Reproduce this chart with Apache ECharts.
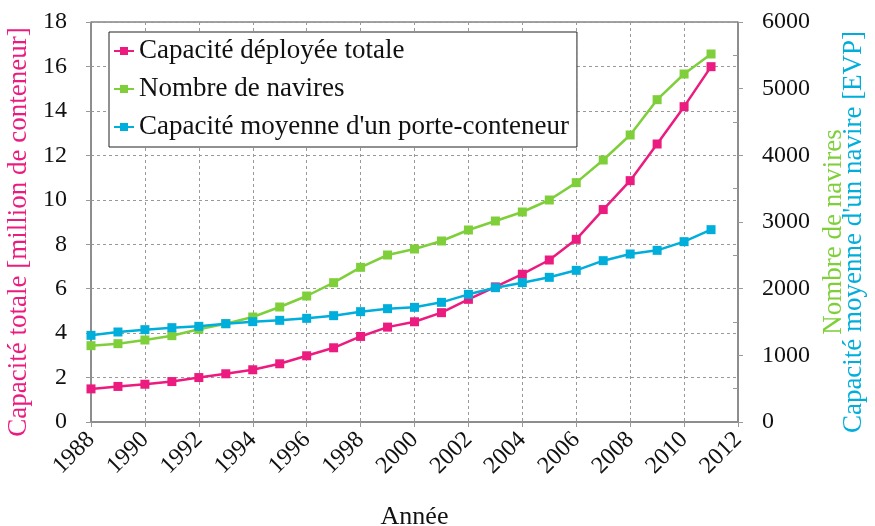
<!DOCTYPE html>
<html>
<head>
<meta charset="utf-8">
<script src="https://cdn.jsdelivr.net/npm/echarts@6/dist/echarts.min.js"></script>
<style>html,body{margin:0;padding:0;background:#fff}#c{width:875px;height:526px}</style>
</head>
<body>
<div id="c"></div>
<script>
var years = [1988,1989,1990,1991,1992,1993,1994,1995,1996,1997,1998,1999,2000,2001,2002,2003,2004,2005,2006,2007,2008,2009,2010,2011];
var capaciteTotale = [1.49,1.6,1.7,1.82,2.0,2.17,2.35,2.62,2.98,3.34,3.85,4.27,4.51,4.92,5.52,6.08,6.65,7.29,8.22,9.56,10.86,12.51,14.19,15.99];
var nombreNavires = [1145,1175,1230,1295,1390,1475,1575,1725,1890,2090,2320,2505,2595,2715,2880,3015,3150,3330,3590,3930,4305,4835,5220,5520];
var capaciteMoyenne = [1300,1350,1385,1415,1435,1475,1505,1525,1555,1595,1655,1700,1720,1795,1915,2015,2090,2170,2275,2420,2520,2575,2705,2885];
var xTicks = {min:1988, max:2012, interval:2};
var yLeftTicks = {min:0, max:18, interval:2};
var yRightTicks = {min:0, max:6000, interval:1000};

function pairs(vals){ return years.map(function(y,i){ return [y, vals[i]]; }); }

var FONT = "'Liberation Serif', serif";
var PINK = '#EC1B7F', GREEN = '#7FCF3B', BLUE = '#00AEDB';
var plain = function(v){ return String(v); };
var chart = echarts.init(document.getElementById('c'));
chart.setOption({
  animation:false,
  textStyle:{fontFamily:FONT},
  grid:{left:91,right:137,top:22,bottom:104,outerBoundsMode:'none',containLabel:false,
        show:true,borderColor:'#444',borderWidth:1,backgroundColor:'transparent'},
  legend:{
    orient:'vertical', left:109, top:32,
    backgroundColor:'#fff', borderColor:'#222', borderWidth:1,
    padding:[5,8,6,4], itemGap:10, itemWidth:20, itemHeight:10,
    textStyle:{fontFamily:FONT,fontSize:27,color:'#111',lineHeight:28},
    data:['Capacité déployée totale','Nombre de navires',"Capacité moyenne d'un porte-conteneur"]
  },
  xAxis:{
    type:'value', min:xTicks.min, max:xTicks.max, interval:xTicks.interval,
    name:'Année', nameLocation:'middle', nameGap:82,
    nameTextStyle:{fontFamily:FONT,fontSize:26,color:'#111'},
    axisLine:{lineStyle:{color:'#888',width:1.5}},
    axisTick:{show:true,inside:false,length:5,lineStyle:{color:'#999'}},
    axisLabel:{rotate:45,fontFamily:FONT,fontSize:24,color:'#111',margin:14,formatter:plain},
    splitLine:{show:true,lineStyle:{type:[3,3],color:'#999',width:1}}
  },
  yAxis:[
    {
      type:'value', position:'left', min:yLeftTicks.min, max:yLeftTicks.max, interval:yLeftTicks.interval,
      name:'Capacité totale [million de conteneur]', nameLocation:'middle', nameRotate:90, nameGap:56,
      nameTextStyle:{fontFamily:FONT,fontSize:27,color:PINK,padding:[0,20,0,0]},
      axisLine:{show:true,lineStyle:{color:'#888',width:1.5}},
      axisTick:{show:true,length:5,lineStyle:{color:'#999'}},
      axisLabel:{fontFamily:FONT,fontSize:24,color:'#111',margin:24,formatter:plain},
      splitLine:{show:true,lineStyle:{type:[3,3],color:'#999',width:1}}
    },
    {
      type:'value', position:'right', min:yRightTicks.min, max:yRightTicks.max, interval:yRightTicks.interval,
      name:'Nombre de navires', nameLocation:'middle', nameRotate:90, nameGap:66,
      nameTextStyle:{fontFamily:FONT,fontSize:27,color:GREEN,padding:[0,20,0,0]},
      axisLine:{show:true,lineStyle:{color:'#888',width:1.5}},
      axisTick:{show:true,length:5,lineStyle:{color:'#999'}},
      minorTick:{show:true,splitNumber:2,length:-5,lineStyle:{color:'#999'}},
      axisLabel:{fontFamily:FONT,fontSize:24,color:'#111',margin:24,formatter:plain},
      splitLine:{show:false}
    },
    {
      type:'value', position:'right', min:yRightTicks.min, max:yRightTicks.max, interval:yRightTicks.interval,
      name:"Capacité moyenne d'un navire [EVP]", nameLocation:'middle', nameRotate:90, nameGap:102,
      nameTextStyle:{fontFamily:FONT,fontSize:27,color:BLUE,padding:[0,20,0,0]},
      axisLine:{show:false}, axisTick:{show:false}, axisLabel:{show:false}, splitLine:{show:false}
    }
  ],
  series:[
    {name:'Capacité déployée totale', type:'line', yAxisIndex:0, data:pairs(capaciteTotale),
     symbol:'rect', symbolSize:9, itemStyle:{color:PINK}, lineStyle:{color:PINK,width:2.5}, z:3},
    {name:'Nombre de navires', type:'line', yAxisIndex:1, data:pairs(nombreNavires),
     symbol:'rect', symbolSize:9, itemStyle:{color:GREEN}, lineStyle:{color:GREEN,width:2.5}, z:2},
    {name:"Capacité moyenne d'un porte-conteneur", type:'line', yAxisIndex:2, data:pairs(capaciteMoyenne),
     symbol:'rect', symbolSize:9, itemStyle:{color:BLUE}, lineStyle:{color:BLUE,width:2.5}, z:4}
  ]
});
</script>
</body>
</html>
